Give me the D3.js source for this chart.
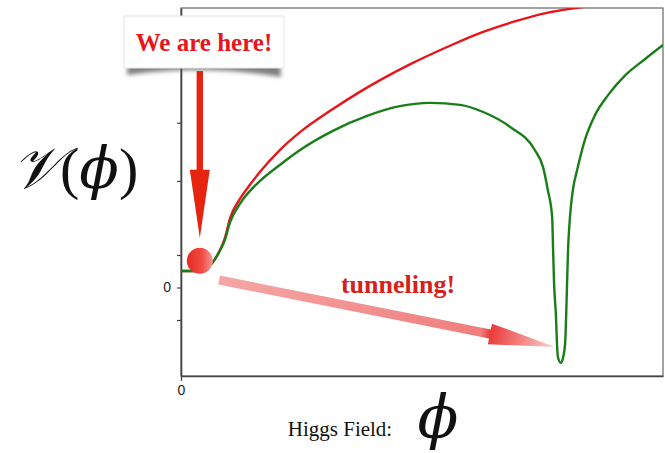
<!DOCTYPE html>
<html>
<head>
<meta charset="utf-8">
<script src="https://cdn.jsdelivr.net/npm/d3@7"></script>
<style>
  body { margin: 0; background: #fff; }
  svg { display: block; }
</style>
</head>
<body>
<script>
// potential curves (phi, V)
let phiGreen = [0, 0.19, 0.39, 0.54, 0.66, 0.79, 0.91, 1.02, 1.22, 1.64, 2.05, 2.47, 3.15, 3.86, 4.54, 4.85, 5.17, 5.79, 6.27, 6.83, 7.34, 7.51, 7.61, 7.70, 7.72, 7.74, 7.78, 7.80, 7.82, 7.88, 7.93, 7.97, 7.99, 8.01, 8.03, 8.07, 8.13, 8.22, 8.38, 8.59, 8.86, 9.21, 9.63, 10.0];
let vGreen   = [0.51, 0.51, 0.51, 0.60, 0.78, 1.09, 1.46, 2.02, 2.57, 3.28, 3.77, 4.23, 4.82, 5.28, 5.58, 5.65, 5.68, 5.62, 5.40, 4.94, 4.23, 3.71, 3.00, 2.17, 1.15, 0.14, -0.91, -1.71, -2.14, -2.32, -2.14, -1.71, -0.91, 0.14, 1.15, 2.17, 3.00, 3.62, 4.54, 5.31, 5.92, 6.52, 7.03, 7.46];

let phiRed = [0, 0.19, 0.39, 0.54, 0.66, 0.79, 0.91, 1.02, 1.22, 1.43, 1.64, 2.05, 2.47, 3.15, 3.71, 4.13, 4.81, 5.52, 6.20, 6.89, 7.59, 8.34];
let vRed   = [0.51, 0.51, 0.51, 0.60, 0.78, 1.09, 1.52, 2.14, 2.72, 3.16, 3.56, 4.23, 4.78, 5.49, 6.02, 6.38, 6.91, 7.40, 7.83, 8.17, 8.45, 8.63];

let yTickValues = [-1, 0, 1, 3.28, 5.07];
let xTickValues = [0];

// annotation anchors in data units
let ball = {phi: 0.39, v: 0.82};
let dropArrow = {phi: 0.39, top: 6.66, headBase: 3.62, tip: 1.52};
let tunnel = {from: [0.79, 0.23], to: [7.76, -1.83], headBase: 6.41};

let outerWidth = 665;
let outerHeight = 453;
let margin = {top: 8, right: 2, bottom: 77, left: 181};
let width = outerWidth - margin.left - margin.right;
let height = outerHeight - margin.top - margin.bottom;

let red = "#e8161c";
let green = "#1a7d1a";

let svg = d3.select("body").append("svg")
    .attr("width", outerWidth)
    .attr("height", outerHeight);

let defs = svg.append("defs");

defs.append("clipPath").attr("id", "plotClip")
  .append("rect").attr("x", 0).attr("y", 0).attr("width", width).attr("height", height);

let ballGrad = defs.append("linearGradient").attr("id", "ballGrad")
    .attr("x1", "0%").attr("y1", "0%").attr("x2", "100%").attr("y2", "0%");
ballGrad.append("stop").attr("offset", "0%").attr("stop-color", "#e52a20");
ballGrad.append("stop").attr("offset", "60%").attr("stop-color", "#ef4d45");
ballGrad.append("stop").attr("offset", "100%").attr("stop-color", "#f99a94");

let blur = defs.append("filter").attr("id", "blur")
    .attr("x", "-10%").attr("y", "-50%").attr("width", "120%").attr("height", "200%");
blur.append("feGaussianBlur").attr("stdDeviation", 2.2);

let g = svg.append("g")
    .attr("transform", "translate(" + margin.left + "," + margin.top + ")");

let xScale = d3.scaleLinear().domain([0, 10]).range([0, width]);
let yScale = d3.scaleLinear().domain([-2.723, 8.6]).range([height, 0]);

// frame
g.append("rect")
    .attr("x", 0).attr("y", 0)
    .attr("width", width).attr("height", height)
    .attr("fill", "none")
    .attr("stroke", "#666")
    .attr("stroke-width", 1.2);

// axes
let yAxis = d3.axisLeft(yScale)
    .tickValues(yTickValues)
    .tickSize(4)
    .tickSizeOuter(0)
    .tickFormat(function(d) { return d === 0 ? "0" : ""; });
let xAxis = d3.axisBottom(xScale)
    .tickValues(xTickValues)
    .tickSize(5)
    .tickSizeOuter(0)
    .tickFormat(d3.format("d"));

let yAxisG = g.append("g").call(yAxis);
let xAxisG = g.append("g").attr("transform", "translate(0," + height + ")").call(xAxis);

[yAxisG, xAxisG].forEach(function(a) {
    a.select(".domain").attr("stroke", "#444").attr("stroke-width", 1.6);
    a.selectAll(".tick line").attr("stroke", "#444").attr("stroke-width", 1.2);
    a.selectAll(".tick text")
        .attr("font-family", "'Liberation Sans', Arial, sans-serif")
        .attr("font-size", 14)
        .attr("fill", "#222");
});
yAxisG.selectAll(".tick text").attr("x", -10);
xAxisG.selectAll(".tick text").attr("y", 9);

// curves
let line = d3.line()
    .x(function(d) { return xScale(d[0]); })
    .y(function(d) { return yScale(d[1]); })
    .curve(d3.curveMonotoneX);

let curves = g.append("g").attr("clip-path", "url(#plotClip)");

curves.append("path")
    .attr("d", line(d3.zip(phiRed, vRed)))
    .attr("fill", "none")
    .attr("stroke", red)
    .attr("stroke-width", 2.4);

curves.append("path")
    .attr("d", line(d3.zip(phiGreen, vGreen)))
    .attr("fill", "none")
    .attr("stroke", green)
    .attr("stroke-width", 2.4);

// tunneling arrow
let tx0 = xScale(tunnel.from[0]), ty0 = yScale(tunnel.from[1]);
let tx1 = xScale(tunnel.to[0]), ty1 = yScale(tunnel.to[1]);
let len = Math.hypot(tx1 - tx0, ty1 - ty0);
let angle = Math.atan2(ty1 - ty0, tx1 - tx0) * 180 / Math.PI;
let headLen = len * (xScale(tunnel.to[0]) - xScale(tunnel.headBase)) / (tx1 - tx0);

let tunnelGrad = defs.append("linearGradient").attr("id", "tunnelGrad")
    .attr("gradientUnits", "userSpaceOnUse")
    .attr("x1", 0).attr("y1", 0).attr("x2", len).attr("y2", 0);
tunnelGrad.append("stop").attr("offset", "0%").attr("stop-color", "#f5a6a6");
tunnelGrad.append("stop").attr("offset", "78%").attr("stop-color", "#f07e7e");
tunnelGrad.append("stop").attr("offset", (100 * (len - headLen) / len) + "%").attr("stop-color", "#ec3a3a");
tunnelGrad.append("stop").attr("offset", "100%").attr("stop-color", "#fbd3d3");

let shaftHalf = 4.5, headHalf = 10.5;
g.append("path")
    .attr("transform", "translate(" + tx0 + "," + ty0 + ") rotate(" + angle + ")")
    .attr("d", "M0," + (-shaftHalf) +
        "L" + (len - headLen) + "," + (-shaftHalf) +
        "L" + (len - headLen) + "," + (-headHalf) +
        "L" + len + ",0" +
        "L" + (len - headLen) + "," + headHalf +
        "L" + (len - headLen) + "," + shaftHalf +
        "L0," + shaftHalf + "Z")
    .attr("fill", "url(#tunnelGrad)");

// ball
g.append("circle")
    .attr("cx", xScale(ball.phi))
    .attr("cy", yScale(ball.v))
    .attr("r", 13)
    .attr("fill", "url(#ballGrad)");

// drop arrow
let ax = xScale(dropArrow.phi);
g.append("rect")
    .attr("x", ax - 3.2)
    .attr("y", yScale(dropArrow.top))
    .attr("width", 6.4)
    .attr("height", yScale(dropArrow.headBase) - yScale(dropArrow.top) + 1)
    .attr("fill", "#e62412");
g.append("path")
    .attr("d", "M" + (ax - 10) + "," + yScale(dropArrow.headBase) +
        "L" + (ax + 10) + "," + yScale(dropArrow.headBase) +
        "L" + ax + "," + yScale(dropArrow.tip) + "Z")
    .attr("fill", "#e62412");

// "We are here!" card
let card = {x: 124, y: 16, w: 160, h: 52};
svg.append("path")
    .attr("d", "M" + (card.x + 4) + "," + (card.y + card.h - 8) +
        "L" + (card.x + card.w - 4) + "," + (card.y + card.h - 8) +
        "L" + (card.x + card.w - 3) + "," + (card.y + card.h + 9) +
        "Q" + (card.x + card.w / 2) + "," + (card.y + card.h - 4) + " " + (card.x + 3) + "," + (card.y + card.h + 7) + "Z")
    .attr("fill", "#555")
    .attr("opacity", 0.75)
    .attr("filter", "url(#blur)");
svg.append("rect")
    .attr("x", card.x).attr("y", card.y)
    .attr("width", card.w).attr("height", card.h)
    .attr("fill", "#fff")
    .attr("stroke", "#e6e6e6")
    .attr("stroke-width", 1);
svg.append("text")
    .attr("x", card.x + card.w / 2)
    .attr("y", card.y + 35)
    .attr("text-anchor", "middle")
    .attr("font-family", "'Liberation Serif', 'DejaVu Serif', serif")
    .attr("font-weight", "bold")
    .attr("font-size", 25)
    .attr("fill", red)
    .text("We are here!");

// tunneling label
g.append("text")
    .attr("x", 398 - margin.left)
    .attr("y", 293 - margin.top)
    .attr("text-anchor", "middle")
    .attr("font-family", "'Liberation Serif', 'DejaVu Serif', serif")
    .attr("font-weight", "bold")
    .attr("font-size", 26)
    .attr("fill", "#d8201a")
    .text("tunneling!");

// axis titles
let yTitle = svg.append("text")
    .attr("x", 12)
    .attr("y", 188)
    .attr("font-family", "'DejaVu Serif', 'Liberation Serif', serif")
    .attr("font-size", 58)
    .attr("fill", "#111");
yTitle.append("tspan").attr("font-style", "italic").text("𝒱");
yTitle.append("tspan").attr("font-family", "'Liberation Serif', serif").text("(");
yTitle.append("tspan").attr("font-style", "italic").text("ϕ");
yTitle.append("tspan").attr("font-family", "'Liberation Serif', serif").text(")");

svg.append("text")
    .attr("x", 340)
    .attr("y", 436)
    .attr("text-anchor", "middle")
    .attr("font-family", "'Liberation Serif', 'DejaVu Serif', serif")
    .attr("font-size", 21)
    .attr("fill", "#111")
    .text("Higgs Field:");

svg.append("text")
    .attr("x", 438)
    .attr("y", 438)
    .attr("text-anchor", "middle")
    .attr("font-family", "'DejaVu Serif', serif")
    .attr("font-style", "italic")
    .attr("font-size", 60)
    .attr("fill", "#111")
    .text("ϕ");
</script>
</body>
</html>
